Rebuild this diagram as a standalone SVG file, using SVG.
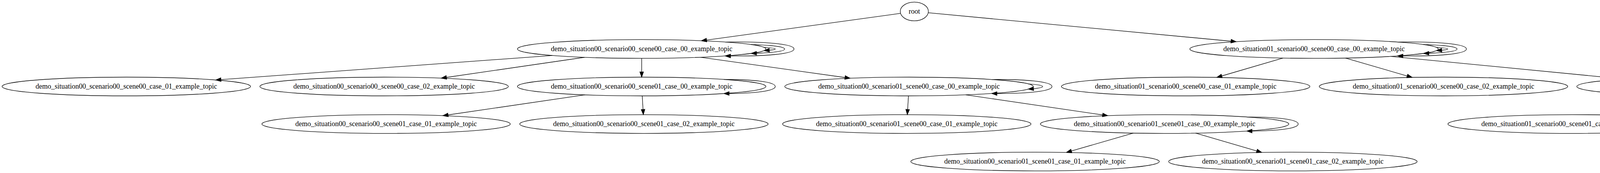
<svg xmlns="http://www.w3.org/2000/svg" width="5008" height="443" viewBox="0 0 5008 443">
<style>
.node ellipse{fill:none;stroke:#000;stroke-width:1}
.node text{font-family:"Liberation Serif","Times New Roman",serif;font-size:13.5px;text-anchor:middle;fill:#000}
.edge path{fill:none;stroke:#000;stroke-width:1}
.edge polygon{fill:#000;stroke:#000;stroke-width:1}
</style>
<rect x="0" y="0" width="5008" height="443" fill="#fff"/>
<svg x="0" y="0" width="5008" height="443" viewBox="0 0 3756 332" preserveAspectRatio="none" overflow="visible">
<g id="connectors" class="edge">
<path d="M1729.06,25.64 L1356.6,76.86"/><polygon points="1346.7,78.22 1356.13,73.39 1357.08,80.32"/>
<path d="M1782.24,24.51 L2363.55,79.05"/><polygon points="2373.51,79.98 2363.22,82.53 2363.88,75.56"/>
<path d="M1060.3,106.49 L424.17,152.78"/><polygon points="414.2,153.51 423.92,149.29 424.42,156.27"/>
<path d="M1122.25,109.98 L857.15,148.58"/><polygon points="847.25,150.02 856.64,145.11 857.65,152.04"/>
<path d="M1232,112 L1232,138"/><polygon points="1232,148 1228.5,138 1235.5,138"/>
<path d="M1345,109.85 L1622.4,148.76"/><polygon points="1632.3,150.15 1621.91,152.23 1622.89,145.29"/>
<path d="M1122.92,182.01 L860.27,220.54"/><polygon points="850.38,221.99 859.76,217.08 860.78,224"/>
<path d="M1233.08,184 L1234.63,210.02"/><polygon points="1235.23,220 1231.14,210.23 1238.12,209.81"/>
<path d="M1744.23,184 L1742.67,210.02"/><polygon points="1742.08,220 1739.18,209.81 1746.16,210.23"/>
<path d="M1854.38,182.01 L2117.03,220.54"/><polygon points="2126.92,221.99 2116.52,224 2117.54,217.08"/>
<path d="M2175.84,255.42 L2057.07,289.8"/><polygon points="2047.46,292.58 2056.1,286.44 2058.04,293.16"/>
<path d="M2295.62,255.43 L2413.08,289.76"/><polygon points="2422.68,292.57 2412.1,293.12 2414.06,286.4"/>
<path d="M2463.34,111.43 L2345.76,145.77"/><polygon points="2336.16,148.57 2344.78,142.41 2346.74,149.13"/>
<path d="M2583.12,111.42 L2701.78,145.8"/><polygon points="2711.38,148.58 2700.8,149.16 2702.75,142.44"/>
<path d="M2669.55,108.2 L3109.5,150.84"/><polygon points="3119.45,151.8 3109.16,154.32 3109.84,147.36"/>
<path d="M3206.11,183.42 L3087.99,217.79"/><polygon points="3078.39,220.58 3087.01,214.43 3088.97,221.15"/>
<path d="M3325.89,183.42 L3444.01,217.79"/><polygon points="3453.61,220.58 3443.03,221.15 3444.99,214.43"/>
<g transform="translate(1232,94)">
<path d="M235,-3.06 C248.5,-2.32 256.5,-1.3 256.5,0 C256.5,0.93 252.4,1.72 245.1,2.36"/>
<polygon points="235,3.06 245.34,5.85 244.86,-1.13"/>
<path d="M210.3,-8.48 C248.1,-7.39 274.5,-4.56 274.5,0 C274.5,4.14 252.7,6.85 220.4,8.14"/>
<polygon points="210.3,8.48 220.52,11.64 220.28,4.64"/>
<path d="M160.4,-13.31 C231.3,-14.52 292.5,-10.08 292.5,0 C292.5,9.59 237.1,14.07 170.6,13.44"/>
<polygon points="160.4,13.31 170.64,9.94 170.56,16.94"/>
</g>
<g transform="translate(2523,94)">
<path d="M235,-3.06 C248.5,-2.32 256.5,-1.3 256.5,0 C256.5,0.93 252.4,1.72 245.1,2.36"/>
<polygon points="235,3.06 245.34,5.85 244.86,-1.13"/>
<path d="M210.3,-8.48 C248.1,-7.39 274.5,-4.56 274.5,0 C274.5,4.14 252.7,6.85 220.4,8.14"/>
<polygon points="210.3,8.48 220.52,11.64 220.28,4.64"/>
<path d="M160.4,-13.31 C231.3,-14.52 292.5,-10.08 292.5,0 C292.5,9.59 237.1,14.07 170.6,13.44"/>
<polygon points="160.4,13.31 170.64,9.94 170.56,16.94"/>
</g>
<g transform="translate(1745.3,166)">
<path d="M229.1,-5.02 C246.1,-3.9 256.5,-2.22 256.5,0 C256.5,1.75 250.1,3.15 239.05,4.22"/>
<polygon points="229.1,5.02 239.33,7.71 238.77,0.73"/>
<path d="M158.8,-13.43 C221.8,-14.13 274.5,-9.66 274.5,0 C274.5,9.14 227.3,13.64 168.8,13.5"/>
<polygon points="158.8,13.43 168.82,10 168.78,17"/>
</g>
<g transform="translate(1232,166)">
<path d="M157.9,-13.5 C212.4,-13.64 256.5,-9.14 256.5,0 C256.5,8.57 217.7,13.06 167.9,13.47"/>
<polygon points="157.9,13.5 167.9,9.97 167.9,16.97"/>
</g>
<g transform="translate(2236,238)">
<path d="M157.9,-13.5 C212.4,-13.64 256.5,-9.14 256.5,0 C256.5,8.57 217.7,13.06 167.9,13.47"/>
<polygon points="157.9,13.5 167.9,9.97 167.9,16.97"/>
</g>
<g transform="translate(3266,166)">
<path d="M157.9,-13.5 C212.4,-13.64 256.5,-9.14 256.5,0 C256.5,8.57 217.7,13.06 167.9,13.47"/>
<polygon points="157.9,13.5 167.9,9.97 167.9,16.97"/>
</g>
</g>
<g id="node-root" class="node"><ellipse cx="1755.5" cy="22" rx="27" ry="18"/><text x="1755.5" y="26">root</text></g>
<g id="node-s00-sc00-se00-c00" class="node"><ellipse cx="1232" cy="94" rx="238.5" ry="18"/><text x="1232" y="98">demo_situation00_scenario00_scene00_case_00_example_topic</text></g>
<g id="node-s01-sc00-se00-c00" class="node"><ellipse cx="2523" cy="94" rx="238.5" ry="18"/><text x="2523" y="98">demo_situation01_scenario00_scene00_case_00_example_topic</text></g>
<g id="node-s00-sc00-se00-c01" class="node"><ellipse cx="242.5" cy="166" rx="238.5" ry="18"/><text x="242.5" y="170">demo_situation00_scenario00_scene00_case_01_example_topic</text></g>
<g id="node-s00-sc00-se00-c02" class="node"><ellipse cx="737.5" cy="166" rx="238.5" ry="18"/><text x="737.5" y="170">demo_situation00_scenario00_scene00_case_02_example_topic</text></g>
<g id="node-s00-sc00-se01-c00" class="node"><ellipse cx="1232" cy="166" rx="238.5" ry="18"/><text x="1232" y="170">demo_situation00_scenario00_scene01_case_00_example_topic</text></g>
<g id="node-s00-sc01-se00-c00" class="node"><ellipse cx="1745.3" cy="166" rx="238.5" ry="18"/><text x="1745.3" y="170">demo_situation00_scenario01_scene00_case_00_example_topic</text></g>
<g id="node-s01-sc00-se00-c01" class="node"><ellipse cx="2276.5" cy="166" rx="238.5" ry="18"/><text x="2276.5" y="170">demo_situation01_scenario00_scene00_case_01_example_topic</text></g>
<g id="node-s01-sc00-se00-c02" class="node"><ellipse cx="2771.5" cy="166" rx="238.5" ry="18"/><text x="2771.5" y="170">demo_situation01_scenario00_scene00_case_02_example_topic</text></g>
<g id="node-s01-sc00-se01-c00" class="node"><ellipse cx="3266" cy="166" rx="238.5" ry="18"/><text x="3266" y="170">demo_situation01_scenario00_scene01_case_00_example_topic</text></g>
<g id="node-s00-sc00-se01-c01" class="node"><ellipse cx="741.3" cy="238" rx="238.5" ry="18"/><text x="741.3" y="242">demo_situation00_scenario00_scene01_case_01_example_topic</text></g>
<g id="node-s00-sc00-se01-c02" class="node"><ellipse cx="1236.3" cy="238" rx="238.5" ry="18"/><text x="1236.3" y="242">demo_situation00_scenario00_scene01_case_02_example_topic</text></g>
<g id="node-s00-sc01-se00-c01" class="node"><ellipse cx="1741" cy="238" rx="238.5" ry="18"/><text x="1741" y="242">demo_situation00_scenario01_scene00_case_01_example_topic</text></g>
<g id="node-s00-sc01-se01-c00" class="node"><ellipse cx="2236" cy="238" rx="238.5" ry="18"/><text x="2236" y="242">demo_situation00_scenario01_scene01_case_00_example_topic</text></g>
<g id="node-s01-sc00-se01-c01" class="node"><ellipse cx="3018.5" cy="238" rx="238.5" ry="18"/><text x="3018.5" y="242">demo_situation01_scenario00_scene01_case_01_example_topic</text></g>
<g id="node-s01-sc00-se01-c02" class="node"><ellipse cx="3513.5" cy="238" rx="238.5" ry="18"/><text x="3513.5" y="242">demo_situation01_scenario00_scene01_case_02_example_topic</text></g>
<g id="node-s00-sc01-se01-c01" class="node"><ellipse cx="1987.3" cy="310" rx="238.5" ry="18"/><text x="1987.3" y="314">demo_situation00_scenario01_scene01_case_01_example_topic</text></g>
<g id="node-s00-sc01-se01-c02" class="node"><ellipse cx="2482.3" cy="310" rx="238.5" ry="18"/><text x="2482.3" y="314">demo_situation00_scenario01_scene01_case_02_example_topic</text></g>
</svg>
</svg>
